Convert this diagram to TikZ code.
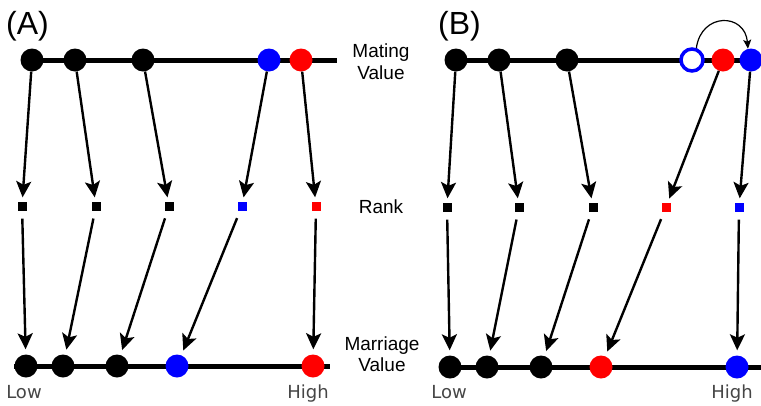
\documentclass[tikz,border=0pt]{standalone}
\usepackage{fontspec}
\setmainfont{Liberation Sans}
\newfontfamily\lowfont{DejaVu Sans}
\usetikzlibrary{arrows.meta}
\definecolor{pblue}{RGB}{0,0,255}
\definecolor{pred}{RGB}{255,0,0}
\definecolor{lgray}{RGB}{70,70,70}
\begin{document}
\begin{tikzpicture}[x=1pt,y=-1pt,
  dot/.style={circle,inner sep=0pt,minimum size=23pt,fill=#1},
  odot/.style={circle,inner sep=0pt,minimum size=22pt,draw=pblue,line width=3.5pt,fill=white},
  rk/.style={rectangle,inner sep=0pt,minimum size=9pt,fill=#1},
  axis/.style={line width=5pt},
  arr/.style={line width=2.4pt,-{Stealth[length=16pt,width=15pt,inset=3.5pt]}},
  lbl/.style={font=\fontsize{19}{22}\selectfont,anchor=base,inner sep=0pt},
  panel/.style={font=\fontsize{32}{36}\selectfont,anchor=base west,inner sep=0pt},
  end/.style={font=\lowfont\fontsize{18}{20}\selectfont,text=lgray,anchor=base,inner sep=0pt}]
\useasboundingbox (0,0) rectangle (761,405);
% panel labels
\node[panel] (pA) at (6,34) {(A)};
\node[panel] (pB) at (438,34) {(B)};
% axes
\coordinate (a1) at (22,60); \coordinate (a2) at (337,60);
\coordinate (a3) at (14,366); \coordinate (a4) at (330,366);
\coordinate (b1) at (445,60); \coordinate (b2) at (761,60);
\coordinate (b3) at (440,367); \coordinate (b4) at (761,367);
\draw[axis] (a1) -- (a2);
\draw[axis] (a3) -- (a4);
\draw[axis] (b1) -- (b2);
\draw[axis] (b3) -- (b4);
% panel A nodes
\node[dot=black] (ta1) at (32,60) {};
\node[dot=black] (ta2) at (75,60) {};
\node[dot=black] (ta3) at (143,60) {};
\node[dot=pblue] (ta4) at (269,60) {};
\node[dot=pred] (ta5) at (301,60) {};
\node[rk=black] (ra1) at (22,206) {};
\node[rk=black] (ra2) at (96,206) {};
\node[rk=black] (ra3) at (169,206) {};
\node[rk=pblue] (ra4) at (242,206) {};
\node[rk=pred] (ra5) at (316,206) {};
\node[dot=black] (ba1) at (26,366) {};
\node[dot=black] (ba2) at (63,366) {};
\node[dot=black] (ba3) at (117,366) {};
\node[dot=pblue] (ba4) at (177,366) {};
\node[dot=pred] (ba5) at (313,366) {};
% panel B nodes
\node[dot=black] (tb1) at (456,60) {};
\node[dot=black] (tb2) at (499,60) {};
\node[dot=black] (tb3) at (567,60) {};
\node[odot] (tb4) at (692,60) {};
\node[dot=pred] (tb5) at (723,60) {};
\node[dot=pblue] (tb6) at (751,60) {};
\node[rk=black] (rb1) at (447,207) {};
\node[rk=black] (rb2) at (519,207) {};
\node[rk=black] (rb3) at (593,207) {};
\node[rk=pred] (rb4) at (666,207) {};
\node[rk=pblue] (rb5) at (739,207) {};
\node[dot=black] (bb1) at (450,367) {};
\node[dot=black] (bb2) at (487,367) {};
\node[dot=black] (bb3) at (541,367) {};
\node[dot=pred] (bb4) at (601,367) {};
\node[dot=pblue] (bb5) at (737,367) {};
% arrows A
\foreach \i in {1,...,5}{
  \draw[arr,shorten >=4pt] (ta\i) -- (ra\i);
  \draw[arr,shorten <=8pt,shorten >=5pt] (ra\i) -- (ba\i);
}
% arrows B
\draw[arr,shorten >=4pt] (tb1) -- (rb1);
\draw[arr,shorten >=4pt] (tb2) -- (rb2);
\draw[arr,shorten >=4pt] (tb3) -- (rb3);
\draw[arr,shorten >=4pt] (tb5) -- (rb4);
\draw[arr,shorten >=4pt] (tb6) -- (rb5);
\foreach \i in {1,...,5}{
  \draw[arr,shorten <=8pt,shorten >=5pt] (rb\i) -- (bb\i);
}
% curved arrow
\draw[line width=1.2pt,-{Stealth[length=9pt,width=8pt,inset=2pt]}] (tb4.70) .. controls +(5,-36) and +(-3,-36) .. (tb6.105);
% labels
\node[lbl] (m1) at (381,57) {Mating};
\node[lbl] (m2) at (381,79) {Value};
\node[lbl] (rk) at (381,213) {Rank};
\node[lbl] (g1) at (382,350) {Marriage};
\node[lbl] (g2) at (382,371) {Value};
\node[end] (lowA) at (24,398) {Low};
\node[end] (highA) at (308,398) {High};
\node[end] (lowB) at (449,398) {Low};
\node[end] (highB) at (732,398) {High};
\end{tikzpicture}
\end{document}
